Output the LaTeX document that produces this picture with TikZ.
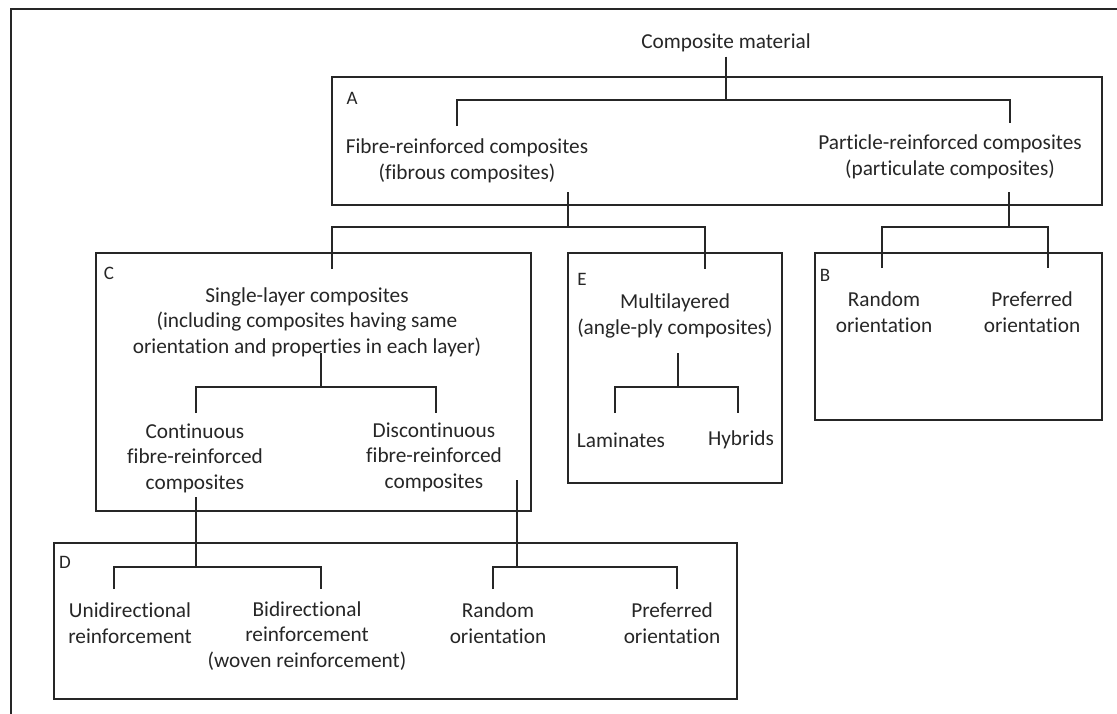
\documentclass[tikz,border=0pt]{standalone}
\usepackage{fontspec}
\setmainfont{Carlito}[Ligatures=NoCommon]

\begin{document}
\begin{tikzpicture}[x=1pt,y=-1pt,line width=1.2pt,color=black!85,
  lbl/.style={align=center,font=\fontsize{21.3}{25.5}\selectfont,inner sep=4pt},
  tag/.style={font=\fontsize{19}{23}\selectfont,inner sep=0pt}]
\useasboundingbox (0,0) rectangle (1117,713);
\draw (11,9) rectangle (1140,740);
% group frames
\draw (332,77) rectangle (1102,205);
\draw (815,253) rectangle (1102,420);
\draw (96,253) rectangle (531,511);
\draw (568,253) rectangle (782,483);
\draw (54,543) rectangle (737,699);
\node[tag] (tagA) at (352,98) {A};
\node[tag] (tagB) at (825,275) {B};
\node[tag] (tagC) at (109,273) {C};
\node[tag] (tagD) at (65,562) {D};
\node[tag] (tagE) at (582,279) {E};
% labels
\node[lbl] (cm) at (726,43) {Composite material};
\node[lbl] (fibre) at (467,161) {Fibre-reinforced composites\\(fibrous composites)};
\node[lbl] (particle) at (950,157) {Particle-reinforced composites\\(particulate composites)};
\node[lbl] (single) at (307,322) {Single-layer composites\\(including composites having same\\orientation and properties in each layer)};
\node[lbl] (cont) at (195,458) {Continuous\\fibre-reinforced\\composites};
\node[lbl] (discont) at (434,457) {Discontinuous\\fibre-reinforced\\composites};
\node[lbl] (multi) at (675,316) {Multilayered\\(angle-ply composites)};
\node[lbl] (lam) at (621,440) {Laminates};
\node[lbl] (hyb) at (741,440) {Hybrids};
\node[lbl] (randB) at (884,312) {Random\\orientation};
\node[lbl] (prefB) at (1032,312) {Preferred\\orientation};
\node[lbl] (uni) at (130,623) {Unidirectional\\reinforcement};
\node[lbl] (bi) at (307,636) {Bidirectional\\reinforcement\\(woven reinforcement)};
\node[lbl] (randD) at (498,623) {Random\\orientation};
\node[lbl] (prefD) at (672,623) {Preferred\\orientation};
% junctions and leg ends
\coordinate (jA) at (726,100);
\coordinate (fibreTip) at (457,126);
\coordinate (particleTip) at (1010,123);
\coordinate (fibreFoot) at (568,192);
\coordinate (jF) at (568,227);
\coordinate (singleTip) at (332,269);
\coordinate (multiTip) at (705,269);
\coordinate (particleFoot) at (1009,192);
\coordinate (jP) at (1009,227);
\coordinate (randBTip) at (882,268);
\coordinate (prefBTip) at (1048,268);
\coordinate (singleFoot) at (321,353);
\coordinate (jS) at (321,387);
\coordinate (contTip) at (196,413);
\coordinate (discontTip) at (436,413);
\coordinate (multiFoot) at (678,353);
\coordinate (jM) at (678,387);
\coordinate (lamTip) at (615,413);
\coordinate (hybTip) at (738,413);
\coordinate (jC) at (196,567);
\coordinate (uniTip) at (114,589);
\coordinate (biTip) at (321,589);
\coordinate (discontFoot) at (517,480);
\coordinate (jD) at (517,567);
\coordinate (randDTip) at (493,589);
\coordinate (prefDTip) at (677,589);
% connectors
\draw (cm) -- (jA);
\draw (fibreTip) |- (jA) -| (particleTip);
\draw (fibreFoot) -- (jF);
\draw (singleTip) |- (jF) -| (multiTip);
\draw (particleFoot) -- (jP);
\draw (randBTip) |- (jP) -| (prefBTip);
\draw (singleFoot) -- (jS);
\draw (contTip) |- (jS) -| (discontTip);
\draw (multiFoot) -- (jM);
\draw (lamTip) |- (jM) -| (hybTip);
\draw (cont.south -| jC) -- (jC);
\draw (uniTip) |- (jC) -| (biTip);
\draw (discontFoot) -- (jD);
\draw (randDTip) |- (jD) -| (prefDTip);
\end{tikzpicture}
\end{document}
